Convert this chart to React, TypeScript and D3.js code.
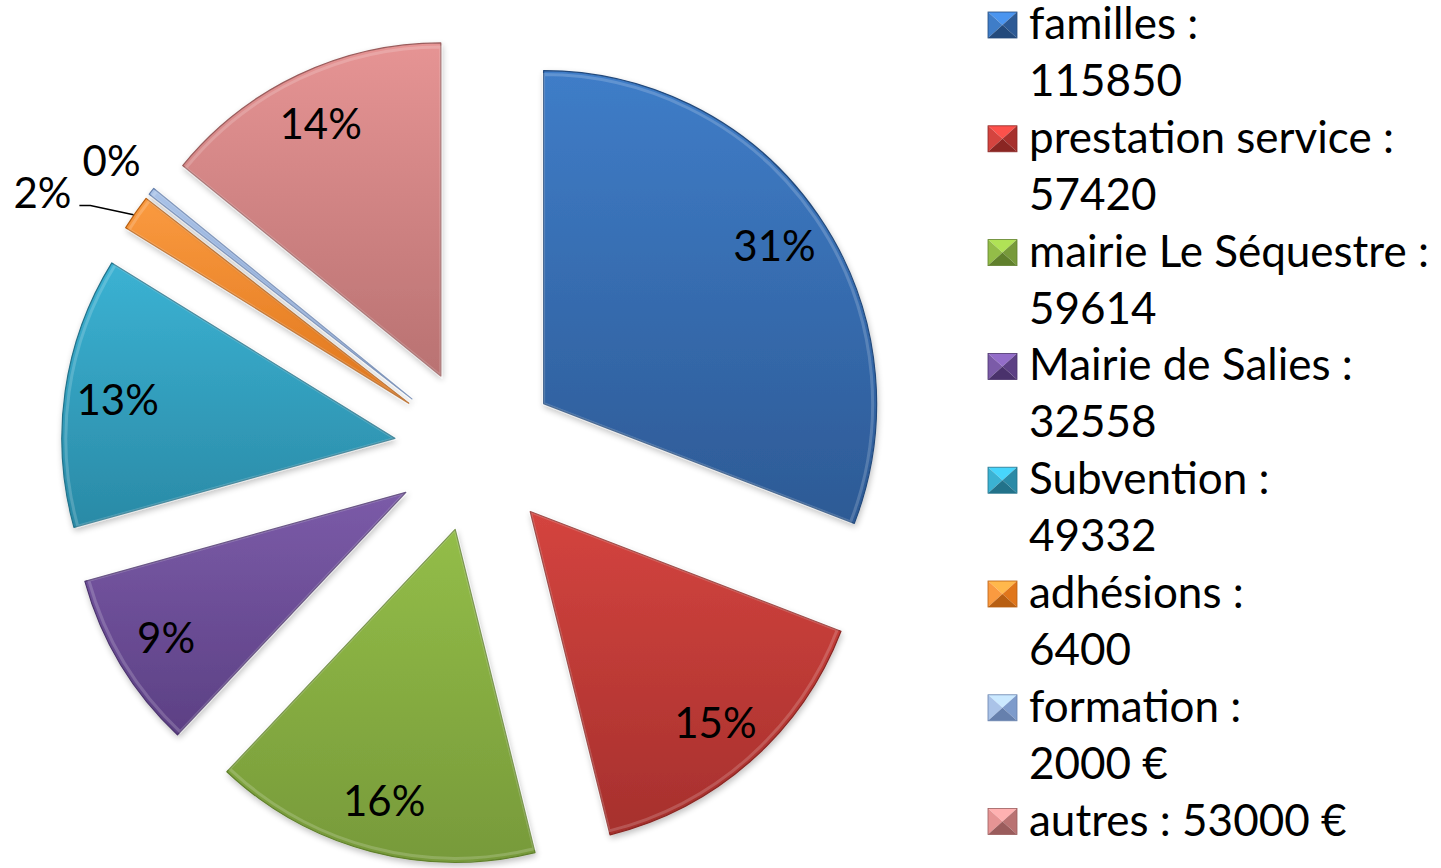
import React from "react";
import * as d3 from "d3";

const categories = [
  "familles",
  "prestation service",
  "mairie Le Séquestre",
  "Mairie de Salies",
  "Subvention",
  "adhésions",
  "formation",
  "autres",
];
// formation slice is drawn thinner than its label says (shows 0%)
const values = [115850, 57420, 59614, 32558, 49332, 6400, 1300, 53000];
const legendLines = [
  ["familles :", "115850"],
  ["prestation service :", "57420"],
  ["mairie Le Séquestre :", "59614"],
  ["Mairie de Salies :", "32558"],
  ["Subvention :", "49332"],
  ["adhésions :", "6400"],
  ["formation :", "2000 €"],
  ["autres : 53000 €"],
];
// [light, dark, edge]
const colors = [
  ["#3f7dc8", "#2d5a95", "#234a7c"],
  ["#d4443f", "#a6302d", "#8a2623"],
  ["#93bd48", "#779a3a", "#60802c"],
  ["#7b5ba8", "#5c4084", "#4a326c"],
  ["#3bb2d3", "#2a8aa6", "#22728a"],
  ["#fa9a40", "#e0761b", "#b85f12"],
  ["#aac3e8", "#7e9bcb", "#6680ad"],
  ["#e69494", "#b97272", "#9a5c5c"],
];

const FONT = "Lato, 'Open Sans', sans-serif";

function App() {
  const width = 1441;
  const height = 868;
  const cx = 476;
  const cy = 450;
  const r = 333;
  const explode = 82;
  const labelR = 280;

  const pie = d3.pie<number>().sort(null).value((d) => d);
  const arcs = pie(values);
  const arc = d3.arc<d3.PieArcDatum<number>>().innerRadius(0).outerRadius(r);
  const innerArc = d3.arc<d3.PieArcDatum<number>>().innerRadius(0).outerRadius(r - 4);
  const total = d3.sum(values);

  const legendX = 988;
  const base0 = 39;
  const lineH = 56.9;

  let line = 0;
  const legendRows = legendLines.map((lines, i) => {
    const start = line;
    line += lines.length;
    return { i, lines, start };
  });

  return (
    <svg width={width} height={height} style={{ position: "absolute", left: 0, top: 0 }}>
      <defs>
        {colors.map((c, i) => (
          <linearGradient key={i} id={`g${i}`} x1="0" y1="0" x2="0" y2="1">
            <stop offset="0%" stopColor={c[0]} />
            <stop offset="100%" stopColor={c[1]} />
          </linearGradient>
        ))}
        <filter id="shadow" x="-20%" y="-20%" width="140%" height="140%">
          <feGaussianBlur in="SourceAlpha" stdDeviation="3" />
          <feOffset dx="1" dy="3" result="b" />
          <feComponentTransfer>
            <feFuncA type="linear" slope="0.25" />
          </feComponentTransfer>
          <feMerge>
            <feMergeNode />
            <feMergeNode in="SourceGraphic" />
          </feMerge>
        </filter>
      </defs>
      <rect width={width} height={height} fill="#fff" />
      <g transform={`translate(${cx},${cy})`}>
        {arcs.map((a, i) => {
          const mid = (a.startAngle + a.endAngle) / 2;
          const dx = explode * Math.sin(mid);
          const dy = -explode * Math.cos(mid);
          return (
            <g key={i} transform={`translate(${dx},${dy})`} filter="url(#shadow)">
              <path d={arc(a) || ""} fill={`url(#g${i})`} stroke={colors[i][2]} strokeWidth={1.2} strokeLinejoin="round" />
              <path d={innerArc(a) || ""} fill="none" stroke="#ffffff" strokeOpacity={0.18} strokeWidth={3} />
            </g>
          );
        })}
        {arcs.map((a, i) => {
          const mid = (a.startAngle + a.endAngle) / 2;
          const ox = explode * Math.sin(mid);
          const oy = -explode * Math.cos(mid);
          const pct = `${Math.round((values[i] / total) * 100)}%`;
          let ang = mid;
          let rr = labelR;
          if (i === 5) {
            ang = (300 * Math.PI) / 180;
            rr = 423;
          } else if (i === 6) {
            rr = 384;
          }
          const lx = ox + rr * Math.sin(ang);
          const ly = oy - rr * Math.cos(ang);
          let leader: string | null = null;
          if (i === 5) {
            const ex = ox + r * Math.sin(mid);
            const ey = oy - r * Math.cos(mid);
            leader = `M${lx + 37},${ly + 14}L${lx + 48},${ly + 14}L${ex - 2},${ey + 2}`;
          }
          return (
            <g key={`l${i}`}>
              {leader && <path d={leader} fill="none" stroke="#000" strokeWidth={1.5} />}
              <text
                x={lx}
                y={ly}
                textAnchor="middle"
                dominantBaseline="central"
                fontFamily={FONT}
                fontSize={42}
                fill="#000"
              >
                {pct}
              </text>
            </g>
          );
        })}
      </g>
      <g>
        {legendRows.map(({ i, lines, start }) => {
          const by = base0 + start * lineH;
          const x0 = legendX;
          const x1 = legendX + 29;
          const y0 = by - 27;
          const y1 = by - 1;
          const mx = (x0 + x1) / 2;
          const my = (y0 + y1) / 2;
          const c = colors[i];
          const lighter = d3.color(c[0])!.brighter(0.5).formatHex();
          return (
            <g key={i}>
              <polygon points={`${x0},${y0} ${x1},${y0} ${mx},${my}`} fill={lighter} />
              <polygon points={`${x0},${y0} ${x0},${y1} ${mx},${my}`} fill={c[0]} />
              <polygon points={`${x1},${y0} ${x1},${y1} ${mx},${my}`} fill={c[1]} />
              <polygon points={`${x0},${y1} ${x1},${y1} ${mx},${my}`} fill={c[2]} />
              <rect x={x0} y={y0} width={x1 - x0} height={y1 - y0} fill="none" stroke={c[2]} strokeWidth={0.8} />
              {lines.map((t, k) => (
                <text key={k} x={1029} y={by + k * lineH} fontFamily={FONT} fontSize={44} fill="#000">
                  {t}
                </text>
              ))}
            </g>
          );
        })}
      </g>
    </svg>
  );
}

export default App;
